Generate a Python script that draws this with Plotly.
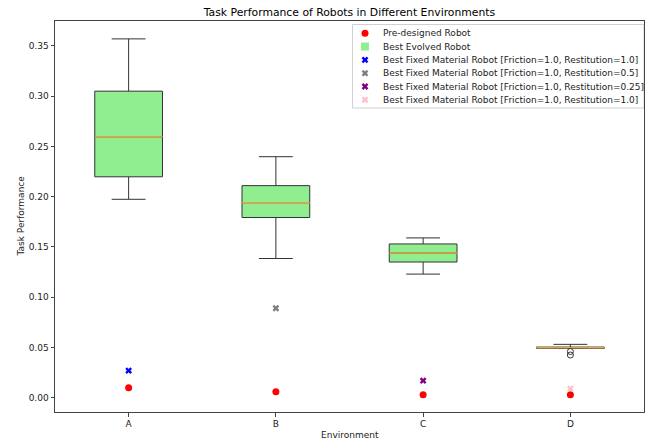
import plotly.graph_objects as go

categories = ["A", "B", "C", "D"]
q1 = [0.2198, 0.1793, 0.1350, 0.0491]
median = [0.2596, 0.1940, 0.1440, 0.0497]
q3 = [0.3050, 0.2110, 0.1530, 0.0504]
lower_whisker = [0.1974, 0.1385, 0.1230, 0.0491]
upper_whisker = [0.3570, 0.2398, 0.1590, 0.0531]
outlier_cat = [3, 3]
outlier_val = [0.0460, 0.0425]

predesigned = [0.010, 0.006, 0.003, 0.003]

fixed_names = [
    "Best Fixed Material Robot [Friction=1.0, Restitution=1.0]",
    "Best Fixed Material Robot [Friction=1.0, Restitution=0.5]",
    "Best Fixed Material Robot [Friction=1.0, Restitution=0.25]",
    "Best Fixed Material Robot [Friction=1.0, Restitution=1.0]",
]
fixed_cat = [0, 1, 2, 3]
fixed_val = [0.027, 0.089, 0.017, 0.009]
fixed_colors = ["blue", "gray", "purple", "pink"]

# ---- layout constants (pixels) ----
W, H = 649, 440
L, R, T, B = 55, 5, 21, 28
PW, PH = W - L - R, H - T - B

def px_x(p):
    return (p - L) / PW

def px_y(p):
    return (H - B - p) / PH

idx = list(range(len(categories)))
box_w = 0.46
BOX_LINE = "#333333"

fig = go.Figure()

fig.add_trace(go.Box(
    x=idx, q1=q1, median=median, q3=q3,
    lowerfence=lower_whisker, upperfence=upper_whisker,
    width=box_w, whiskerwidth=0.5,
    fillcolor="#90EE90", line=dict(color=BOX_LINE, width=1),
    boxpoints=False, showlegend=False, hoverinfo="skip",
))

mx, my = [], []
for i, m in zip(idx, median):
    mx += [i - box_w / 2, i + box_w / 2, None]
    my += [m, m, None]
fig.add_trace(go.Scatter(x=mx, y=my, mode="lines",
                         line=dict(color="#e0a545", width=1.5),
                         showlegend=False, hoverinfo="skip"))

fig.add_trace(go.Scatter(x=outlier_cat, y=outlier_val, mode="markers",
                         marker=dict(symbol="circle-open", size=6,
                                     color="#333333", line=dict(width=1)),
                         showlegend=False, hoverinfo="skip"))

MARK_PRE = dict(symbol="circle", size=7, color="red")
fig.add_trace(go.Scatter(x=idx, y=predesigned, mode="markers",
                         marker=MARK_PRE, showlegend=False))

for ci, val, col in zip(fixed_cat, fixed_val, fixed_colors):
    fig.add_trace(go.Scatter(x=[ci], y=[val], mode="markers",
                             marker=dict(symbol="x", size=6, color=col,
                                         line=dict(width=0)),
                             showlegend=False))

# ---- custom legend (matplotlib style) ----
legend_labels = ["Pre-designed Robot", "Best Evolved Robot"] + fixed_names
legend_markers = [MARK_PRE, dict(symbol="square", size=8, color="#90EE90")] + [
    dict(symbol="x", size=6, color=c, line=dict(width=0)) for c in fixed_colors]
leg_top, leg_step = 33.3, 13.3
leg_box = (352.5, 24.5, 644, 108)
fig.add_shape(type="rect", xref="paper", yref="paper",
              x0=px_x(leg_box[0]), x1=px_x(leg_box[2]),
              y0=px_y(leg_box[3]), y1=px_y(leg_box[1]),
              line=dict(color="#d0d0d0", width=1), fillcolor="white",
              layer="below")
for k, (lab, mk) in enumerate(zip(legend_labels, legend_markers)):
    yy = px_y(leg_top + k * leg_step)
    fig.add_trace(go.Scatter(x=[px_x(365)], y=[yy], mode="markers", marker=mk,
                             xaxis="x2", yaxis="y2", showlegend=False,
                             hoverinfo="skip"))
    fig.add_annotation(text=lab, xref="paper", yref="paper", x=px_x(380.5), y=yy,
                       xanchor="left", yanchor="middle", showarrow=False,
                       font=dict(size=9, color="#222"))

axis_common = dict(showline=True, linecolor="#444444", linewidth=1, mirror=True,
                   ticks="outside", ticklen=3.5, tickcolor="#444444",
                   showgrid=False, zeroline=False, automargin=False,
                   tickfont=dict(size=9, color="#222"))

fig.update_layout(
    width=W, height=H,
    margin=dict(l=L, r=R, t=T, b=B),
    paper_bgcolor="white", plot_bgcolor="white",
    font=dict(family="DejaVu Sans", size=9, color="black"),
    title=dict(text="Task Performance of Robots in Different Environments",
               x=(L + PW / 2) / W, xanchor="center", xref="container",
               y=1 - 12.5 / H, yanchor="middle",
               font=dict(size=10.8, color="black")),
    xaxis=dict(range=[-0.5, 3.5], tickvals=idx, ticktext=categories,
               **axis_common),
    yaxis=dict(range=[-0.0142, 0.3748],
               tickvals=[0, 0.05, 0.1, 0.15, 0.2, 0.25, 0.3, 0.35],
               tickformat=".2f", **axis_common),
    xaxis2=dict(overlaying="x", range=[0, 1], visible=False, fixedrange=True),
    yaxis2=dict(overlaying="y", range=[0, 1], visible=False, fixedrange=True),
    showlegend=False,
)

fig.add_annotation(text="Environment", xref="paper", yref="paper",
                   x=0.5, y=px_y(435), xanchor="center", yanchor="middle",
                   showarrow=False, font=dict(size=9, color="#222"))
fig.add_annotation(text="Task Performance", xref="paper", yref="paper",
                   x=px_x(20), y=0.5, xanchor="center", yanchor="middle",
                   textangle=-90, showarrow=False, font=dict(size=9, color="#222"))

fig.write_html("out.html",
               config={"displayModeBar": False},
               post_script="document.body.style.margin='0px';"
                           "document.body.style.overflow='hidden';")
